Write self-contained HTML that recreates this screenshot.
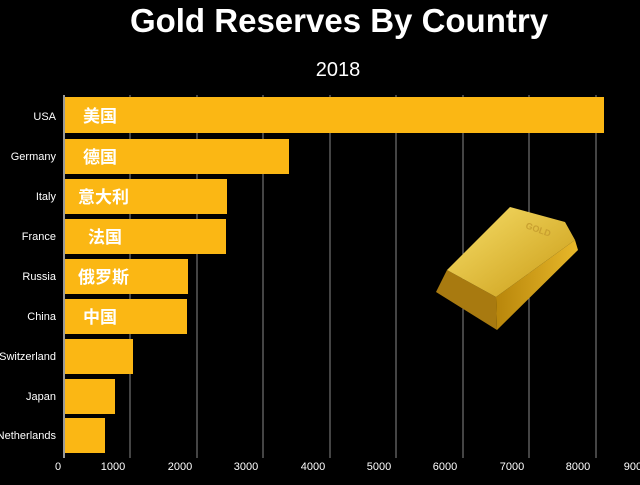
<!DOCTYPE html>
<html><head><meta charset="utf-8"><style>
body{margin:0;background:#000;width:640px;height:480px;overflow:hidden;font-family:"Liberation Sans","Noto Sans CJK SC",sans-serif}
</style></head><body>
<svg width="640" height="480" xmlns="http://www.w3.org/2000/svg">
<defs>
<linearGradient id="g1" x1="0" y1="0" x2="1" y2="1"><stop offset="0" stop-color="#f7df6a"/><stop offset="1" stop-color="#c99a14"/></linearGradient>
<linearGradient id="g2" x1="0" y1="0" x2="1" y2="0"><stop offset="0" stop-color="#b8860b"/><stop offset="1" stop-color="#e8b82a"/></linearGradient>
</defs>
<rect width="640" height="480" fill="#000"/>
<text x="339" y="32" fill="#fff" font-size="33" font-weight="bold" text-anchor="middle">Gold Reserves By Country</text>
<text x="338" y="76" fill="#fff" font-size="20" text-anchor="middle">2018</text>
<g stroke="#888" stroke-width="1">
<line x1="130" y1="95" x2="130" y2="458"/><line x1="197" y1="95" x2="197" y2="458"/><line x1="263" y1="95" x2="263" y2="458"/><line x1="330" y1="95" x2="330" y2="458"/><line x1="396" y1="95" x2="396" y2="458"/><line x1="463" y1="95" x2="463" y2="458"/><line x1="529" y1="95" x2="529" y2="458"/><line x1="596" y1="95" x2="596" y2="458"/>
</g>
<line x1="64" y1="95" x2="64" y2="458" stroke="#ccc" stroke-width="1.5"/>
<g fill="#fbb714">
<rect x="65" y="97" width="539" height="36"/>
<rect x="65" y="139" width="224" height="35"/>
<rect x="65" y="179" width="162" height="35"/>
<rect x="65" y="219" width="161" height="35"/>
<rect x="65" y="259" width="123" height="35"/>
<rect x="65" y="299" width="122" height="35"/>
<rect x="65" y="339" width="68" height="35"/>
<rect x="65" y="379" width="50" height="35"/>
<rect x="65" y="418" width="40" height="35"/>
</g>
<g fill="#fff" font-size="17" font-weight="bold">
<text x="83" y="122">美国</text><text x="83" y="163">德国</text><text x="78" y="203">意大利</text><text x="88" y="243">法国</text><text x="78" y="283">俄罗斯</text><text x="83" y="323">中国</text>
</g>
<g fill="#fff" font-size="11" text-anchor="end">
<text x="56" y="120">USA</text><text x="56" y="160">Germany</text><text x="56" y="200">Italy</text><text x="56" y="240">France</text><text x="56" y="280">Russia</text><text x="56" y="320">China</text><text x="56" y="360">Switzerland</text><text x="56" y="400">Japan</text><text x="56" y="439">Netherlands</text>
</g>
<g fill="#fff" font-size="11" text-anchor="middle">
<text x="58" y="470">0</text><text x="113" y="470">1000</text><text x="180" y="470">2000</text><text x="246" y="470">3000</text><text x="313" y="470">4000</text><text x="379" y="470">5000</text><text x="445" y="470">6000</text><text x="512" y="470">7000</text><text x="578" y="470">8000</text><text x="636" y="470">9000</text>
</g>
<polygon points="436,292 447,270 496,297 497,330" fill="#a87a10"/>
<polygon points="496,297 575,240 578,250 497,330" fill="url(#g2)"/>
<polygon points="447,270 510,207 565,222 575,240 496,297" fill="url(#g1)"/>
<text x="525" y="228" fill="#c9a030" font-size="9" font-weight="bold" transform="rotate(20 525 228)">GOLD</text>
</svg>
</body></html>
